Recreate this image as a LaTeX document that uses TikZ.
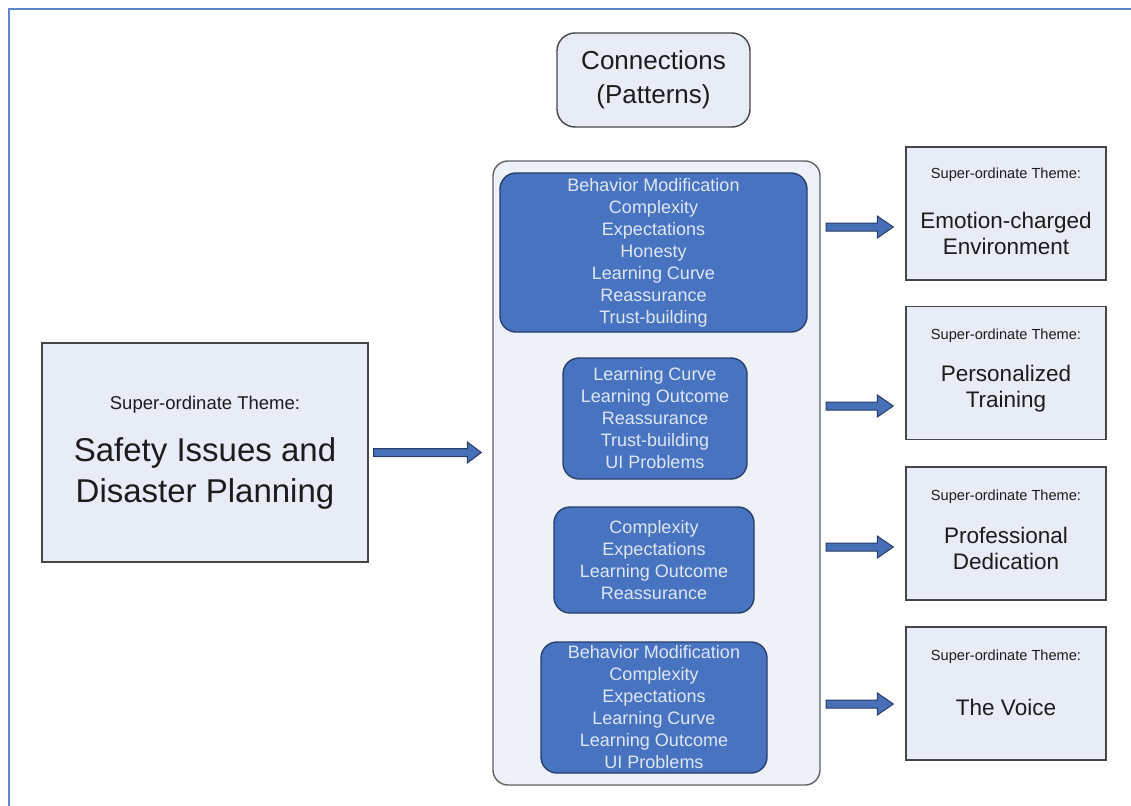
\documentclass[tikz,border=0pt]{standalone}
\usepackage{fontspec}
\setmainfont{Liberation Sans}
\usetikzlibrary{calc}

\definecolor{frameblue}{RGB}{95,135,205}
\definecolor{boxfill}{RGB}{232,236,246}
\definecolor{contfill}{RGB}{238,241,248}
\definecolor{darkline}{RGB}{70,70,70}
\definecolor{inktext}{RGB}{28,28,28}
\definecolor{patfill}{RGB}{72,115,192}
\definecolor{patline}{RGB}{40,62,108}
\definecolor{pattext}{RGB}{224,231,244}
\definecolor{arrowfill}{RGB}{72,112,182}
\definecolor{arrowline}{RGB}{40,60,102}

\tikzset{
  themebox/.style={draw=darkline, line width=1.4pt, fill=boxfill,
    minimum width=200pt, minimum height=133pt, inner sep=0pt},
  mainbox/.style={draw=darkline, line width=1.4pt, fill=boxfill,
    minimum width=326pt, minimum height=219pt, inner sep=0pt},
  headbox/.style={draw=darkline, line width=1.4pt, fill=boxfill, rounded corners=18pt,
    minimum width=193pt, minimum height=94pt, inner sep=0pt, text=inktext, align=center,
    font=\fontsize{26}{34}\selectfont},
  holder/.style={draw=darkline!85, line width=1.4pt, fill=contfill, rounded corners=15pt,
    minimum width=327pt, minimum height=624pt, inner sep=0pt},
  patbox/.style={draw=patline, line width=1.4pt, fill=patfill, rounded corners=16pt,
    inner sep=0pt, text=pattext, align=center, font=\fontsize{18}{22}\selectfont},
  smalltitle/.style={text=inktext, inner sep=0pt, font=\fontsize{14.6}{18}\selectfont},
  bigtitle/.style={text=inktext, inner sep=0pt, align=center, font=\fontsize{22.5}{26}\selectfont},
  arrowsty/.style={draw=arrowline, fill=arrowfill, line width=1pt, line join=miter},
}

% block arrow: #1 start point, #2 target, #3 gap before the target,
% #4 half shaft height, #5 half head height, #6 head length
\newcommand\bigarrowshape[6]{%
  \path[arrowsty] let \p1=(#1), \p2=(#2) in
    (\x1,\y1+#4) -- (\x2-#3-#6,\y1+#4) -- (\x2-#3-#6,\y1+#5) -- (\x2-#3,\y1)
    -- (\x2-#3-#6,\y1-#5) -- (\x2-#3-#6,\y1-#4) -- (\x1,\y1-#4) -- cycle;}

\begin{document}
\begin{tikzpicture}[x=1pt,y=-1pt]
\useasboundingbox[fill=white] (0,0) rectangle (1131,805);

% outer frame
\draw[frameblue, line width=2.6pt] (9,806) -- (9,9) -- (1132,9);

% heading
\node[headbox] (conn) at (653.5,80) {Connections\\(Patterns)};

% container of the pattern groups
\node[holder] (cont) at (656.5,473) {};

\node[patbox, minimum width=307pt, minimum height=159pt] (p1) at (653.5,252.5)
  {Behavior Modification\\Complexity\\Expectations\\Honesty\\Learning Curve\\Reassurance\\Trust-building};
\node[patbox, minimum width=184pt, minimum height=121pt] (p2) at (655,418.5)
  {Learning Curve\\Learning Outcome\\Reassurance\\Trust-building\\UI Problems};
\node[patbox, minimum width=200pt, minimum height=106pt] (p3) at (654,560)
  {Complexity\\Expectations\\Learning Outcome\\Reassurance};
\node[patbox, minimum width=226pt, minimum height=131pt] (p4) at (654,707.5)
  {Behavior Modification\\Complexity\\Expectations\\Learning Curve\\Learning Outcome\\UI Problems};

% source theme
\node[mainbox] (src) at (205,452.5) {};
\node[text=inktext, inner sep=0pt, font=\fontsize{18.5}{22}\selectfont] (srcsup)
  at ([yshift=-62pt]src.north) {Super-ordinate Theme:};
\node[text=inktext, inner sep=0pt, align=center, font=\fontsize{33}{41}\selectfont] (srcname)
  at ([yshift=-131pt]src.north) {Safety Issues and\\Disaster Planning};

% resulting themes
\node[themebox] (r1) at (1006,213.5) {};
\node[themebox] (r2) at (1006,373) {};
\node[themebox] (r3) at (1006,533.5) {};
\node[themebox] (r4) at (1006,693.5) {};

\node[smalltitle] (r1sup) at ([yshift=-28pt]r1.north) {Super-ordinate Theme:};
\node[smalltitle] (r2sup) at ([yshift=-30pt]r2.north) {Super-ordinate Theme:};
\node[smalltitle] (r3sup) at ([yshift=-30pt]r3.north) {Super-ordinate Theme:};
\node[smalltitle] (r4sup) at ([yshift=-30pt]r4.north) {Super-ordinate Theme:};

\node[bigtitle] (r1name) at ([yshift=-87pt]r1.north) {Emotion-charged\\Environment};
\node[bigtitle] (r2name) at ([yshift=-83pt]r2.north) {Personalized\\Training};
\node[bigtitle] (r3name) at ([yshift=-82pt]r3.north) {Professional\\Dedication};
\node[bigtitle] (r4name) at ([yshift=-81pt]r4.north) {The Voice};

% arrow start points
\coordinate (a0) at ([xshift=5pt]src.east);
\coordinate (a1) at (826,227);
\coordinate (a2) at (826,406);
\coordinate (a3) at (826,547);
\coordinate (a4) at (826,704);

\bigarrowshape{a0}{cont.west}{11pt}{4pt}{10.5pt}{14pt}
\bigarrowshape{a1}{r1.west}{12pt}{4pt}{11pt}{16pt}
\bigarrowshape{a2}{r2.west}{12pt}{4pt}{11pt}{16pt}
\bigarrowshape{a3}{r3.west}{12pt}{4pt}{11pt}{16pt}
\bigarrowshape{a4}{r4.west}{12pt}{4pt}{11pt}{16pt}
\end{tikzpicture}
\end{document}
